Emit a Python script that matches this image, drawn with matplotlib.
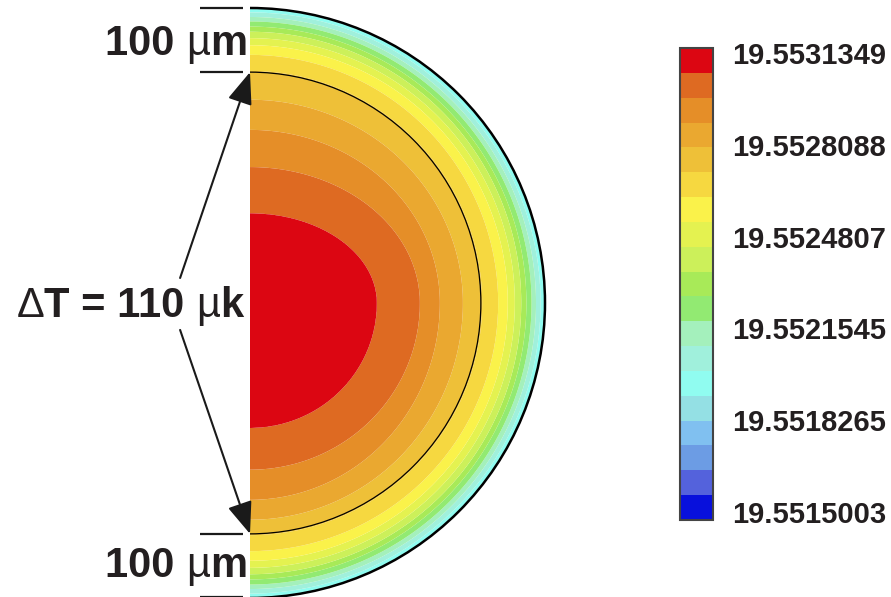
import numpy as np
import matplotlib
matplotlib.use("Agg")
import matplotlib.pyplot as plt
from matplotlib.colors import ListedColormap, BoundaryNorm
from matplotlib.patches import Wedge, Arc
from matplotlib.transforms import IdentityTransform

plt.rcParams['font.family'] = ['Liberation Sans', 'DejaVu Sans']

# ---------------- data ----------------
TICK_VALUES = [19.5515003, 19.5518265, 19.5521545, 19.5524807, 19.5528088, 19.5531349]
TICK_LABELS = ["19.5515003", "19.5518265", "19.5521545", "19.5524807", "19.5528088", "19.5531349"]
N_BANDS = 19
BAND_COLORS = [  # top (hot) to bottom (cold)
    "#dc0612", "#de6a22", "#e58e28", "#eaa830", "#eec038", "#f6d840", "#faf24a",
    "#e4f250", "#ccf05a", "#a8ea58", "#92ea72", "#a4f0bc", "#a0f0dc", "#90fcf0",
    "#94e0e4", "#80c0f0", "#6c9ce4", "#5462dc", "#0810dc",
]
R_OUT = 460.0   # um, outer radius of the disk
R_IN = 360.0    # um, inner marked circle (100 um inside)
# isotherm radii (um) between successive bands, read at top / right / bottom
BOUND_TOP = [140, 212, 270, 317, 362, 387, 402, 413, 423, 431, 439, 446, 453]
BOUND_RIGHT = [198, 265, 296, 332, 362, 387, 402, 413, 423, 431, 439, 446, 453]
BOUND_BOTTOM = [195, 260, 307, 338, 362, 387, 402, 413, 423, 431, 439, 446, 453]

# colour scale (ticks sit slightly inside the bar ends)
span = (TICK_VALUES[-1] - TICK_VALUES[0]) / 0.972
VMIN = TICK_VALUES[0] - 0.017 * span
VMAX = VMIN + span
LEVELS = np.linspace(VMIN, VMAX, N_BANDS + 1)
BW = LEVELS[1] - LEVELS[0]
T_CENTER = LEVELS[-1] - 0.3 * BW
T_EDGE = LEVELS[N_BANDS - 14] + 0.5 * BW

# ---------------- field ----------------
xg = np.linspace(0, R_OUT + 5, 500)
yg = np.linspace(-R_OUT - 5, R_OUT + 5, 1000)
X, Y = np.meshgrid(xg, yg)
Rr = np.hypot(X, Y)
TH = np.arctan2(Y, X)
c, s_ = np.cos(TH), np.sin(TH)

nodes = [np.zeros_like(Rr)]
vals = [T_CENTER]
for j in range(len(BOUND_TOP)):
    a = BOUND_RIGHT[j]
    b = np.where(Y >= 0, BOUND_TOP[j], BOUND_BOTTOM[j])
    nodes.append(1.0 / np.sqrt((c / a) ** 2 + (s_ / b) ** 2))
    vals.append(LEVELS[N_BANDS - (j + 1)])
nodes.append(np.full_like(Rr, R_OUT))
vals.append(T_EDGE)

rc = np.minimum(Rr, R_OUT)
T = np.full_like(Rr, T_EDGE)
for k in range(len(nodes) - 2, -1, -1):
    m = rc <= nodes[k + 1]
    t = (rc - nodes[k]) / (nodes[k + 1] - nodes[k])
    Tk = vals[k] + t * (vals[k + 1] - vals[k])
    T[m] = Tk[m]

# ---------------- figure ----------------
W, H = 891, 597
fig = plt.figure(figsize=(W / 100, H / 100), dpi=100)
sc = 295.0 / R_OUT  # px per um
ax = fig.add_axes([0, 0, 600 / W, 1])
ax.set_xlim(-250 / sc, 350 / sc)
ax.set_ylim(-294 / sc, 303 / sc)
ax.axis('off')

cmap = ListedColormap(BAND_COLORS[::-1])
norm = BoundaryNorm(LEVELS, cmap.N)
cs = ax.contourf(X, Y, T, levels=LEVELS, cmap=cmap, norm=norm, antialiased=True)
clip = Wedge((0, 0), R_OUT, -90, 90, transform=ax.transData)
cs.set_clip_path(clip)

ax.add_patch(Arc((0, 0), 2 * R_OUT, 2 * R_OUT, theta1=-90, theta2=90,
                 color='black', lw=1.8))
ax.add_patch(Arc((0, 0), 2 * R_IN, 2 * R_IN, theta1=-90, theta2=90,
                 color='black', lw=0.9))

# dimension lines
for yv in (R_OUT, R_IN, -R_IN, -R_OUT + 2):
    ax.plot([-78, -11], [yv, yv], color='#1a1a1a', lw=1.6, solid_capstyle='butt')

# arrows
for tip, start in (((0, R_IN), (-109, 39)), ((0, -R_IN), (-109, -42))):
    ax.annotate('', xy=tip, xytext=start,
                arrowprops=dict(arrowstyle='-|>,head_length=0.9,head_width=0.35',
                                lw=1.5, color='#1a1a1a', shrinkA=0, shrinkB=0,
                                mutation_scale=22))

renderer = fig.canvas.get_renderer()


def rich_text(pieces, x_right, y_base_ref, size):
    texts = []
    widths = []
    for txt, wt in pieces:
        t = fig.text(0, 0, txt, fontsize=size, fontweight=wt, color='#231f20',
                     ha='left', va='baseline', transform=IdentityTransform())
        texts.append(t)
        widths.append(t.get_window_extent(renderer).width)
    x = x_right - sum(widths)
    yb = H - y_base_ref
    for t, w in zip(texts, widths):
        t.set_position((x, yb))
        x += w


rich_text([("100 ", 'bold'), ("\u00b5", 'normal'), ("m", 'bold')], 247, 55, 30)
rich_text([("100 ", 'bold'), ("\u00b5", 'normal'), ("m", 'bold')], 247, 577, 30)
rich_text([("\u0394", 'normal'), ("T = 110 ", 'bold'), ("\u00b5", 'normal'), ("k", 'bold')],
          243, 317, 30)

# colorbar
cax = fig.add_axes([680 / W, (H - 520) / H, 33 / W, 472 / H])
cb = fig.colorbar(cs, cax=cax, ticks=TICK_VALUES)
cb.set_ticklabels(TICK_LABELS)
cax.minorticks_off()
cax.tick_params(which='both', length=0, pad=14, labelsize=21, labelcolor='#231f20')
for lab in cax.get_yticklabels():
    lab.set_fontweight('bold')
cb.outline.set_edgecolor('#444444')
cb.outline.set_linewidth(1.5)

fig.savefig('out.png', dpi=100)
